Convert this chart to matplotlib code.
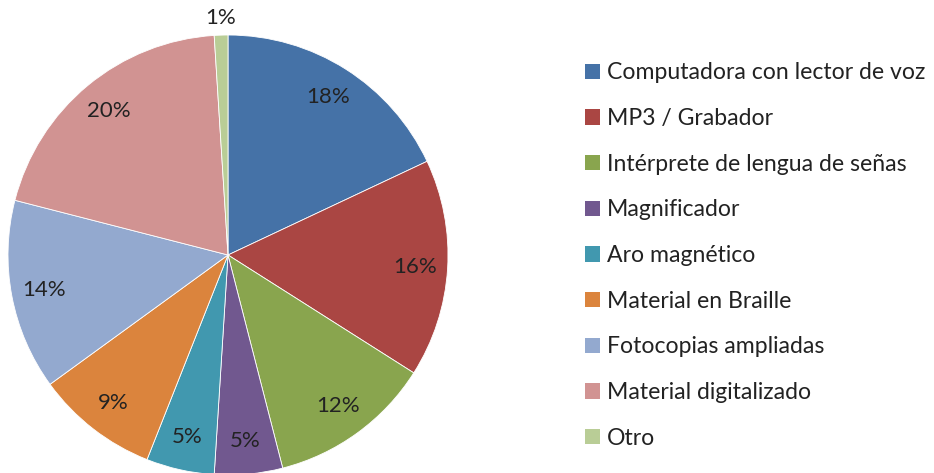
import numpy as np
import matplotlib
matplotlib.use("Agg")
import matplotlib.pyplot as plt
from matplotlib.patches import Patch

# data
categories = ["Computadora con lector de voz", "MP3 / Grabador", "Intérprete de lengua de señas",
              "Magnificador", "Aro magnético", "Material en Braille", "Fotocopias ampliadas",
              "Material digitalizado", "Otro"]
shares = [18, 16, 12, 5, 5, 9, 14, 20, 1]
colors = ["#4572A7", "#AA4643", "#89A54E", "#71588F", "#4198AF",
          "#DB843D", "#93A9CF", "#D19392", "#B9CD96"]

plt.rcParams['font.family'] = ['Lato', 'DejaVu Sans']
W, H = 934, 473
fig = plt.figure(figsize=(W / 100, H / 100), dpi=100)

# pie axes: centre (228, 255) px, radius 220 px
cx, cy, r = 228, 255, 220
ax = fig.add_axes([(cx - r) / W, (H - cy - r) / H, 2 * r / W, 2 * r / H])
wedges, texts, autotexts = ax.pie(shares, colors=colors, startangle=90, counterclock=False,
                                  autopct='%1.0f%%', pctdistance=0.85,
                                  wedgeprops=dict(edgecolor='white', linewidth=0.6),
                                  textprops=dict(fontsize=16, color='#222222'))
ax.set_xlim(-1, 1)
ax.set_ylim(-1, 1)
ax.set_aspect('equal')

# the small slice gets its label outside the pie
w = wedges[-1]
mid = np.deg2rad((w.theta1 + w.theta2) / 2)
autotexts[-1].set_position((1.08 * np.cos(mid), 1.08 * np.sin(mid)))

handles = [Patch(facecolor=c, edgecolor='none') for c in colors]
fig.legend(handles, categories, loc='center left', bbox_to_anchor=(576 / W, 1 - 255.5 / H),
           frameon=False, fontsize=16.6, handlelength=0.64, handleheight=0.64,
           handletextpad=0.3, labelspacing=1.07, borderaxespad=0, labelcolor='#222222')

fig.savefig("out.png", dpi=100)
